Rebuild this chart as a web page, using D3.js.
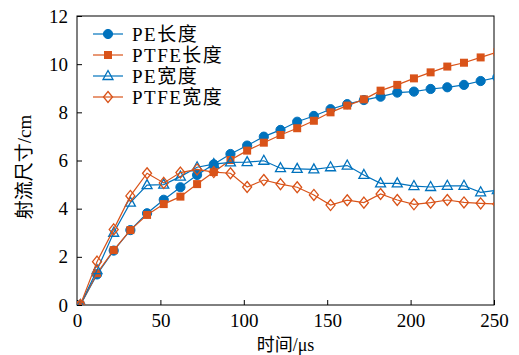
<!DOCTYPE html>
<html>
<head>
<meta charset="utf-8">
<script src="https://cdn.jsdelivr.net/npm/d3@7"></script>
<style>
body { margin: 0; background: #fff; }
svg text { font-family: "Liberation Serif", "Noto Sans CJK SC", serif; fill: #000; }
</style>
</head>
<body>
<svg id="chart" width="519" height="355"></svg>
<script>
// time points (µs); the last one lies beyond the axis and is clipped
var times = [2, 12, 22, 32, 42, 52, 62, 72, 82, 92, 102, 112, 122, 132, 142, 152, 162, 172, 182, 192, 202, 212, 222, 232, 242, 252];
var peLength   = [0, 1.27, 2.26, 3.11, 3.81, 4.37, 4.89, 5.40, 5.84, 6.27, 6.62, 6.99, 7.27, 7.61, 7.85, 8.13, 8.34, 8.51, 8.65, 8.82, 8.86, 8.97, 9.04, 9.14, 9.30, 9.45];
var ptfeLength = [0, 1.32, 2.28, 3.11, 3.74, 4.19, 4.50, 5.02, 5.52, 6.02, 6.41, 6.74, 7.06, 7.34, 7.65, 8.00, 8.28, 8.54, 8.90, 9.14, 9.41, 9.66, 9.90, 10.06, 10.28, 10.50];
var peWidth    = [0, 1.45, 3.00, 4.25, 4.98, 5.00, 5.33, 5.72, 5.85, 5.92, 5.93, 5.99, 5.68, 5.65, 5.63, 5.72, 5.79, 5.40, 5.05, 5.05, 4.94, 4.90, 4.95, 4.95, 4.68, 4.77];
var ptfeWidth  = [0, 1.80, 3.14, 4.53, 5.47, 5.07, 5.50, 5.63, 5.52, 5.47, 4.90, 5.19, 5.02, 4.89, 4.57, 4.15, 4.35, 4.25, 4.61, 4.36, 4.18, 4.25, 4.36, 4.26, 4.22, 4.19];
var seriesNames = ["PE长度", "PTFE长度", "PE宽度", "PTFE宽度"];
var xTicks = [0, 50, 100, 150, 200, 250];
var yTicks = [0, 2, 4, 6, 8, 10, 12];

var blue = "#0072BD", orange = "#D95319";
var series = [
    {name: seriesNames[0], values: peLength,   color: blue,   marker: "circle"},
    {name: seriesNames[1], values: ptfeLength, color: orange, marker: "square"},
    {name: seriesNames[2], values: peWidth,    color: blue,   marker: "triangle"},
    {name: seriesNames[3], values: ptfeWidth,  color: orange, marker: "diamond"}
];

var svg = d3.select("#chart");
var padding = {top: 16, right: 25, bottom: 50, left: 77};
var chartArea = {
    "width": 519 - padding.left - padding.right,
    "height": 355 - padding.top - padding.bottom
};

var xScale = d3.scaleLinear().domain([0, 250]).range([0, chartArea.width]);
var yScale = d3.scaleLinear().domain([0, 12]).range([chartArea.height, 0]);

svg.append("defs").append("clipPath").attr("id", "clip")
    .append("rect").attr("width", chartArea.width).attr("height", chartArea.height);

var g = svg.append("g").attr("transform", "translate(" + padding.left + "," + padding.top + ")");

// axes with inward ticks
var xAxis = g.append("g").attr("transform", "translate(0," + chartArea.height + ")")
    .call(d3.axisBottom(xScale).tickValues(xTicks).tickSizeInner(-5).tickSizeOuter(0).tickPadding(9));
var yAxis = g.append("g")
    .call(d3.axisLeft(yScale).tickValues(yTicks).tickSizeInner(-5).tickSizeOuter(0).tickPadding(9));
[xAxis, yAxis].forEach(function(a) {
    a.select(".domain").remove();
    a.selectAll("line").attr("stroke", "#000");
    a.selectAll("text").style("font-size", "19px").attr("font-family", null);
});

g.append("rect").attr("width", chartArea.width).attr("height", chartArea.height)
    .attr("fill", "none").attr("stroke", "#000").attr("stroke-width", 1);

function drawMarker(sel, type, color) {
    if (type === "circle") {
        sel.append("circle").attr("r", 4.6).attr("fill", color).attr("stroke", color);
    } else if (type === "square") {
        sel.append("rect").attr("x", -4).attr("y", -4).attr("width", 8).attr("height", 8).attr("fill", color);
    } else if (type === "triangle") {
        sel.append("path").attr("d", "M0,-5.5L5,3.5L-5,3.5Z").attr("fill", "none").attr("stroke", color).attr("stroke-width", 1.3);
    } else {
        sel.append("path").attr("d", "M0,-5.5L4.5,0L0,5.5L-4.5,0Z").attr("fill", "none").attr("stroke", color).attr("stroke-width", 1.3);
    }
}

var line = d3.line().x(function(d) { return xScale(d[0]); }).y(function(d) { return yScale(d[1]); });
var plot = g.append("g").attr("clip-path", "url(#clip)");

series.forEach(function(s) {
    var pts = times.map(function(t, i) { return [t, s.values[i]]; });
    plot.append("path").datum(pts).attr("d", line)
        .attr("fill", "none").attr("stroke", s.color).attr("stroke-width", 1.2);
    plot.selectAll(null).data(pts).enter().append("g")
        .attr("transform", function(d) { return "translate(" + xScale(d[0]) + "," + yScale(d[1]) + ")"; })
        .each(function() { drawMarker(d3.select(this), s.marker, s.color); });
});

// legend
var legend = g.append("g").attr("transform", "translate(16,18)");
series.forEach(function(s, i) {
    var row = legend.append("g").attr("transform", "translate(0," + (i * 21) + ")");
    row.append("line").attr("x1", 0).attr("x2", 30).attr("stroke", s.color).attr("stroke-width", 1.2);
    drawMarker(row.append("g").attr("transform", "translate(15,0)"), s.marker, s.color);
    row.append("text").attr("x", 39).attr("dy", "0.36em")
        .style("font-size", "19px").style("letter-spacing", "1.5px").text(s.name);
});

// axis titles
svg.append("text").attr("x", padding.left + chartArea.width / 2).attr("y", 351)
    .attr("text-anchor", "middle").style("font-size", "18px").text("时间/μs");
svg.append("text").attr("transform", "translate(31," + 167 + ") rotate(-90)")
    .attr("text-anchor", "middle").style("font-size", "19px").text("射流尺寸/cm");
</script>
</body>
</html>
